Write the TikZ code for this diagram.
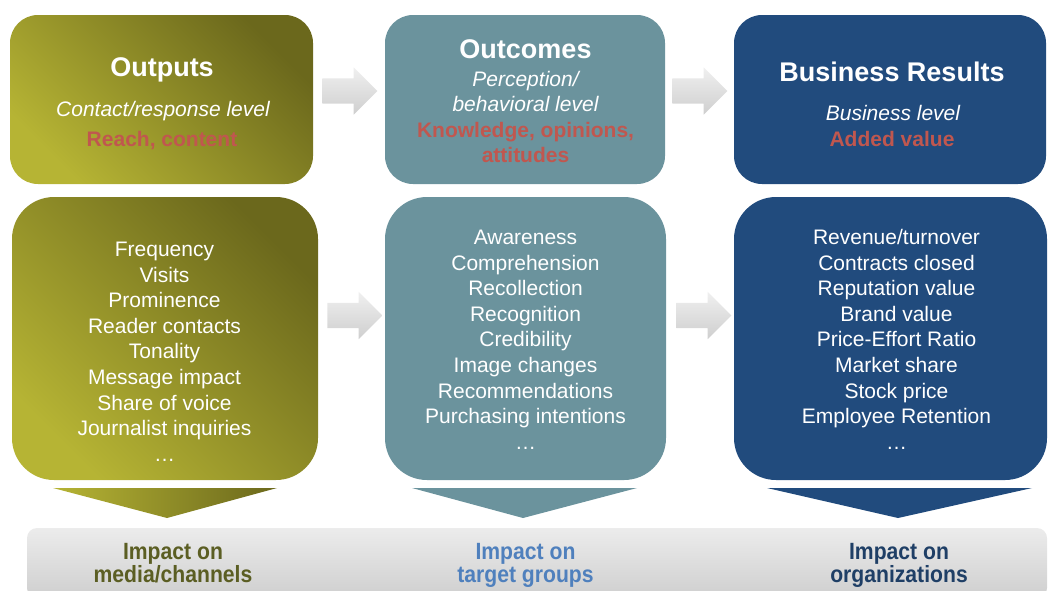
\documentclass[tikz,border=0pt]{standalone}
\usepackage{fontspec}
\setmainfont{Liberation Sans}
\newfontfamily\impactfont[FakeStretch=0.9]{Liberation Sans}
\usetikzlibrary{shapes.arrows}

\definecolor{olivedark}{HTML}{6B681C}
\definecolor{olivelight}{HTML}{B6B434}
\definecolor{outcome}{HTML}{6B939D}
\definecolor{business}{HTML}{214B7D}
\definecolor{redtext}{HTML}{C0574F}
\definecolor{impactolive}{HTML}{5B5E23}
\definecolor{impactblue}{HTML}{4F80BD}
\definecolor{impactnavy}{HTML}{1F3F66}

\begin{document}
\begin{tikzpicture}[x=1pt,y=-1pt]

\tikzset{box/.style = {shape=rectangle, rounded corners=28pt, inner sep=0pt, minimum height=169pt}}
\tikzset{listbox/.style = {box, rounded corners=42pt, minimum height=283pt}}
\tikzset{olive/.style = {top color=olivedark, bottom color=olivelight, shading angle=-45}}
\tikzset{garrow/.style = {shape=single arrow, top color=gray!12, bottom color=gray!38, inner xsep=0pt, inner ysep=12.5pt, minimum height=55pt, single arrow head extend=11pt, single arrow head indent=0pt}}
\tikzset{title/.style = {anchor=base, text=white, font=\fontsize{27}{32}\selectfont\bfseries}}
\tikzset{level/.style = {anchor=base, text=white, font=\fontsize{21}{25}\selectfont\itshape}}
\tikzset{key/.style = {anchor=base, text=redtext, font=\fontsize{21}{25}\selectfont\bfseries}}
\tikzset{item/.style = {anchor=base, text=white, font=\fontsize{21}{25}\selectfont}}
\tikzset{impact/.style = {anchor=base, font=\impactfont\fontsize{23.5}{28}\selectfont\bfseries}}

\useasboundingbox (0,0) rectangle (1048,590);

%boxes
\node[box, olive, minimum width=303pt] (out1) at (161.5,99.5) {};
\node[box, fill=outcome, minimum width=280pt] (oc1) at (525,99.5) {};
\node[box, fill=business, minimum width=312pt] (br1) at (890,99.5) {};
\node[listbox, olive, minimum width=306pt] (out2) at (165,338.5) {};
\node[listbox, fill=outcome, minimum width=281pt] (oc2) at (525.5,338.5) {};
\node[listbox, fill=business, minimum width=313pt] (br2) at (890.5,338.5) {};

%arrows
\node[garrow] (a1) at (343.5,91) {};
\node[garrow] (a2) at (693.5,91) {};
\node[garrow] (a3) at (348.5,315.5) {};
\node[garrow] (a4) at (697.5,315.5) {};

%headers
\node[title] (t1) at (162,76) {Outputs};
\node[level] (l1) at (163,116.5) {Contact/response level};
\node[key] (k1) at (162,146) {Reach, content};
\node[title] (t2) at (525.5,58.5) {Outcomes};
\node[level] (l2a) at (525.5,86) {Perception/};
\node[level] (l2b) at (525.5,111.5) {behavioral level};
\node[key] (k2a) at (525.5,137) {Knowledge, opinions,};
\node[key] (k2b) at (525.5,162.5) {attitudes};
\node[title] (t3) at (892,81) {Business Results};
\node[level] (l3) at (893,120.5) {Business level};
\node[key] (k3) at (892,146.5) {Added value};

%lists
\foreach \t [count=\i from 0] in {Frequency, Visits, Prominence, Reader contacts, Tonality, Message impact, Share of voice, Journalist inquiries, \ldots}
  \node[item] (m\i) at (164.5,256.5+25.6*\i) {\t};
\foreach \t [count=\i from 0] in {Awareness, Comprehension, Recollection, Recognition, Credibility, Image changes, Recommendations, Purchasing intentions, \ldots}
  \node[item] (g\i) at (525.5,244.5+25.6*\i) {\t};
\foreach \t [count=\i from 0] in {Revenue/turnover, Contracts closed, Reputation value, Brand value, Price-Effort Ratio, Market share, Stock price, Employee Retention, \ldots}
  \node[item] (r\i) at (896.5,244.5+25.6*\i) {\t};

%impact
\shade[left color=olivelight, right color=olivedark] (53,488) -- (277,488) -- (167,518) -- cycle;
\fill[outcome] (412,488) -- (637,488) -- (523,518) -- cycle;
\fill[business] (767,488) -- (1032,488) -- (898,518) -- cycle;
\node[shape=rectangle, rounded corners=10pt, inner sep=0pt, minimum width=1020pt, minimum height=70pt, top color=gray!15, bottom color=gray!38] (bar) at (537,563) {};
\node[impact, text=impactolive] (i1a) at (173,559.5) {Impact on};
\node[impact, text=impactolive] (i1b) at (173,582.5) {media/channels};
\node[impact, text=impactblue] (i2a) at (525.5,559.5) {Impact on};
\node[impact, text=impactblue] (i2b) at (525.5,582.5) {target groups};
\node[impact, text=impactnavy] (i3a) at (899,559.5) {Impact on};
\node[impact, text=impactnavy] (i3b) at (899,582.5) {organizations};

\end{tikzpicture}
\end{document}
